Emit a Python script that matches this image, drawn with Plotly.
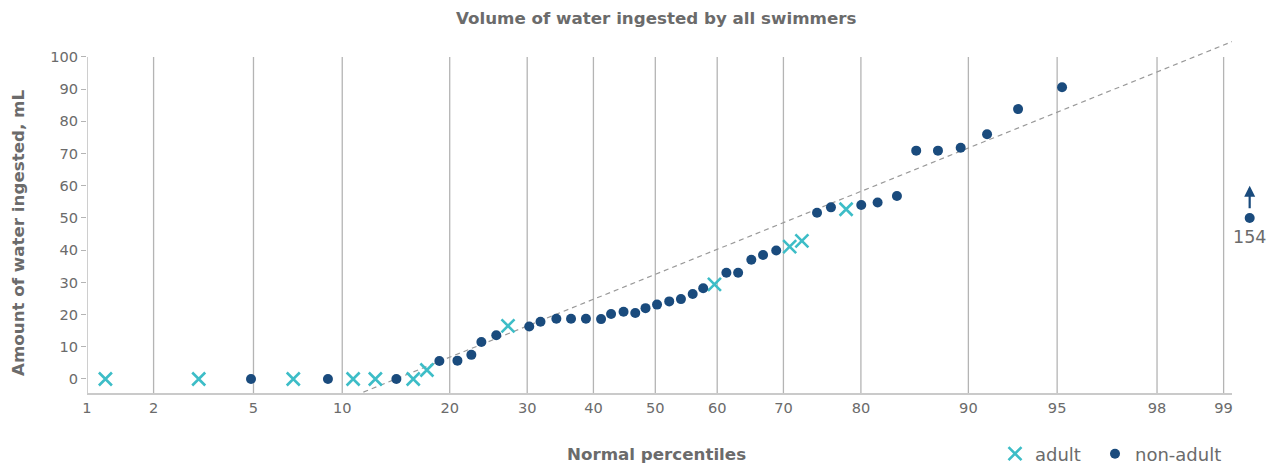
import statistics
import plotly.graph_objects as go

# ---------------- data ----------------
tick_percentiles = [1, 2, 5, 10, 20, 30, 40, 50, 60, 70, 80, 90, 95, 98, 99]
tick_labels = [str(p) for p in tick_percentiles]

# x values are normal scores (z) of the plotting positions, y in mL
adult_z = [-2.251, -1.869, -1.482, -1.237, -1.146, -0.991, -0.935, -0.603,
           0.242, 0.550, 0.600, 0.781]
adult_ml = [0, 0, 0, 0, 0, 0, 2.8, 16.5, 29.4, 41.1, 42.9, 52.7]

nonadult_z = [-1.655, -1.340, -1.060, -0.884, -0.810, -0.753, -0.712, -0.651,
              -0.516, -0.470, -0.405, -0.345, -0.284, -0.222, -0.181, -0.130,
              -0.082, -0.040, 0.007, 0.057, 0.105, 0.153, 0.196, 0.291,
              0.339, 0.393, 0.441, 0.495, 0.662, 0.719, 0.843, 0.910,
              0.989, 1.068, 1.157, 1.250, 1.358, 1.485, 1.665]
nonadult_ml = [0, 0, 0, 5.6, 5.7, 7.5, 11.5, 13.6,
               16.3, 17.8, 18.7, 18.7, 18.7, 18.6, 20.2, 20.9,
               20.5, 22.0, 23.1, 24.1, 24.8, 26.4, 28.2, 33.0,
               33.0, 37.0, 38.5, 39.9, 51.6, 53.3, 54.0, 54.8,
               56.8, 70.9, 70.9, 71.8, 76.0, 83.8, 90.6]

# off-scale outlier (true value 154, drawn at 50 with an arrow)
outlier_z = 2.433
outlier_value = 154
outlier_display_ml = 50

# fitted reference line  y = intercept + slope * z
fit_intercept = 32.5
fit_slope = 30.6
fit_z_span = [-1.4, 2.6]

# ---------------- styling ----------------
TEAL = "#3dbdc7"
NAVY = "#1a4b7d"
GRID = "#b4b4b4"
TXT = "#6b6b6b"
FONT = "DejaVu Sans"

W, H = 1270, 465
ML, MR, MT, MB = 87, 38, 41, 72
PW, PH = W - ML - MR, H - MT - MB

nd = statistics.NormalDist()
tick_z = [nd.inv_cdf(p / 100) for p in tick_percentiles]

X_RANGE = [tick_z[0], tick_z[0] + 4.687]
Y_RANGE = [-4.35, 104.95]

fig = go.Figure()

# fitted dashed line
fig.add_trace(go.Scatter(
    x=fit_z_span,
    y=[fit_intercept + fit_slope * z for z in fit_z_span],
    mode="lines", line=dict(color="#9a9a9a", width=1.2, dash="5px,4px"),
    showlegend=False, hoverinfo="skip"))

fig.add_trace(go.Scatter(
    x=adult_z, y=adult_ml, mode="markers", name="adult", legend="legend",
    marker=dict(symbol="x-thin", size=13, color=TEAL,
                line=dict(color=TEAL, width=2.6))))

fig.add_trace(go.Scatter(
    x=nonadult_z, y=nonadult_ml, mode="markers", name="non-adult",
    legend="legend2",
    marker=dict(symbol="circle", size=10, color=NAVY)))

# vertical grid lines (the first one doubles as the y axis line)
for z in tick_z:
    fig.add_shape(type="line", xref="x", yref="y", x0=z, x1=z,
                  y0=Y_RANGE[0], y1=100, line=dict(color=GRID, width=1.3),
                  layer="below")

# outlier drawn beyond the right edge of the axis
out_px = (outlier_z - X_RANGE[0]) / (X_RANGE[1] - X_RANGE[0])
fig.add_shape(type="circle", xref="paper", yref="y",
              xsizemode="pixel", ysizemode="pixel",
              xanchor=out_px, yanchor=outlier_display_ml,
              x0=-5, x1=5, y0=-5, y1=5,
              fillcolor=NAVY, line=dict(color=NAVY, width=0))
fig.add_annotation(xref="paper", yref="y", x=out_px, y=outlier_display_ml + 10,
                   ax=0, ay=24, text="", showarrow=True, arrowhead=2,
                   arrowsize=1, arrowwidth=2.2, arrowcolor=NAVY, standoff=0)
fig.add_annotation(xref="paper", yref="y", x=out_px, y=outlier_display_ml,
                   yshift=-19, xanchor="center", yanchor="middle",
                   text=str(outlier_value), showarrow=False,
                   font=dict(family=FONT, size=17.5, color=TXT))

legend_style = dict(orientation="h", xanchor="left", yref="paper",
                    y=(H - MB - 454) / PH, yanchor="middle",
                    font=dict(family=FONT, size=18, color=TXT),
                    bgcolor="rgba(0,0,0,0)")

fig.update_layout(
    width=W, height=H,
    margin=dict(l=ML, r=MR, t=MT, b=MB, autoexpand=False),
    paper_bgcolor="white", plot_bgcolor="white",
    font=dict(family=FONT, size=15, color=TXT),
    xaxis=dict(range=X_RANGE, tickvals=tick_z, ticktext=tick_labels,
               showgrid=False, zeroline=False, showline=True,
               linecolor="#cacaca", linewidth=2, ticks="",
               tickfont=dict(family=FONT, size=14.6, color=TXT)),
    yaxis=dict(range=Y_RANGE, tickvals=list(range(0, 101, 10)),
               showgrid=False, zeroline=False, showline=False,
               ticks="outside", ticklen=5, tickcolor=GRID, tickwidth=1,
               tickfont=dict(family=FONT, size=14.6, color=TXT)),
    legend=dict(x=(995 - ML) / PW, **legend_style),
    legend2=dict(x=(1095 - ML) / PW, **legend_style),
    showlegend=True,
)

fig.add_annotation(xref="paper", yref="paper", x=(656.5 - ML) / PW,
                   y=1 + (MT - 18) / PH, yanchor="middle", xanchor="center",
                   showarrow=False,
                   text="<b>Volume of water ingested by all swimmers</b>",
                   font=dict(family=FONT, size=16.7, color=TXT))
fig.add_annotation(xref="paper", yref="paper", x=(656 - ML) / PW,
                   y=(H - MB - 454) / PH,
                   yanchor="middle", xanchor="center", showarrow=False,
                   text="<b>Normal percentiles</b>",
                   font=dict(family=FONT, size=16.7, color=TXT))
fig.add_annotation(xref="paper", yref="paper", x=(18 - ML) / PW,
                   y=(H - MB - 233) / PH,
                   yanchor="middle", xanchor="center", showarrow=False,
                   textangle=-90, text="<b>Amount of water ingested, mL</b>",
                   font=dict(family=FONT, size=16.7, color=TXT))

fig.write_html("out.html", config={"displayModeBar": False},
               post_script="document.body.style.margin='0';"
                           "document.body.style.overflow='hidden';")
